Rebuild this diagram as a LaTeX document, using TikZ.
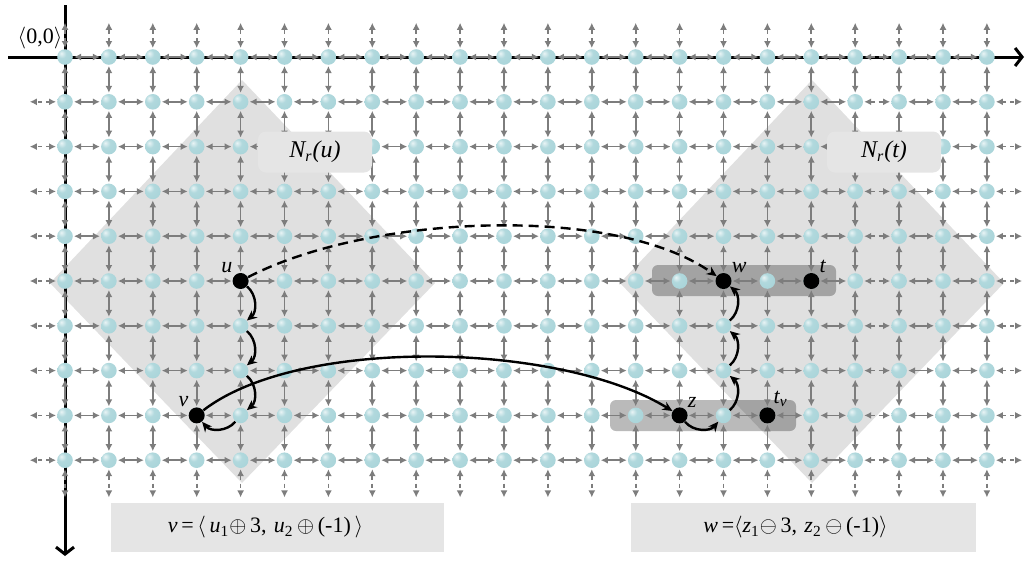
\documentclass[tikz,border=0pt]{standalone}
\usepackage{fontspec}
\setmainfont{Liberation Serif}
\usepackage{amsmath,amssymb}
\usetikzlibrary{arrows.meta,calc}

\definecolor{edgegray}{RGB}{125,125,125}
\definecolor{sitecol}{RGB}{168,212,217}
\definecolor{hoodgray}{RGB}{224,224,224}
\definecolor{boxgray}{RGB}{229,229,229}

\pgfdeclareradialshading{sitesh}{\pgfqpoint{-12bp}{12bp}}{%
  color(0bp)=(white!75!sitecol); color(14bp)=(sitecol!90!white);
  color(38bp)=(sitecol); color(62bp)=(sitecol!75!black); color(80bp)=(sitecol!70!black)}

\pgfdeclarelayer{back}
\pgfdeclarelayer{links}
\pgfsetlayers{back,links,main}

\tikzset{
  site/.style={circle,inner sep=0pt,minimum size=7.8pt,shading=sitesh},
  pick/.style={circle,inner sep=0pt,minimum size=8pt,fill=black},
  link/.style={draw=edgegray,line width=0.85pt,{Latex[length=3.5pt,width=3.5pt]}-{Latex[length=3.5pt,width=3.5pt]},shorten <=0.4pt,shorten >=0.4pt},
  stub/.style={link,dash pattern=on 2pt off 2pt},
  hop/.style={draw,line width=1.2pt,-{Stealth[length=5pt,width=4.5pt]}},
  axis/.style={draw,line width=1.5pt,-{Straight Barb[length=3.5pt,width=9pt]}},
  lbl/.style={font=\fontsize{11}{12}\selectfont\itshape,inner sep=1pt},
  hoodbox/.style={rounded corners=4pt,fill=boxgray,font=\fontsize{12}{14}\selectfont\itshape},
  rulebox/.style={fill=boxgray,font=\fontsize{11}{13}\selectfont},
}

\begin{document}
\begin{tikzpicture}[x=0.5pt,y=-0.5pt]
        \useasboundingbox (0,0) rectangle (1028,563);
        % neighbourhoods and rows
        \begin{pgfonlayer}{back}
            \path[fill=hoodgray](242,80)--(435,283)--(242,483)--(50,283)--cycle;
            \path[fill=hoodgray](812,80)--(1004,283)--(812,483)--(620,283)--cycle;
            \path[fill=black,fill opacity=0.27,rounded corners=3pt](652,265)rectangle(836,296);
            \path[fill=black,fill opacity=0.27,rounded corners=3pt](610,400)rectangle(796,431);
            % axis
            \coordinate (xs) at (8,57);
            \coordinate (xe) at (1024,57);
            \coordinate (ys) at (65,5);
            \coordinate (ye) at (65,556);
            \path[axis](xs)to(xe);
            \path[axis](ys)to(ye);
        \end{pgfonlayer}
        \node[font=\fontsize{11}{12}\selectfont] (origin) at (40,38) {$\langle$0,0$\rangle$};
        % lattice
        \foreach \c in {0,...,21}
            \foreach \r in {0,...,9}
                \node[site] (s-\c-\r) at ({65+43.9*\c},{57+44.8*\r}) {};
        \begin{pgfonlayer}{links}
            \foreach \c [count=\d] in {0,...,20}
                \foreach \r in {0,...,9}{
                    \ifnum\c=18
                        \path[stub](s-\c-\r)to(s-\d-\r);
                    \else
                        \path[link](s-\c-\r)to(s-\d-\r);
                    \fi
                }
            \foreach \c in {0,...,21}
                \foreach \r [count=\q] in {0,...,8}
                    \path[link](s-\c-\r)to(s-\c-\q);
            % open ends
            \foreach \c in {0,...,21}{
                \path[stub](s-\c-0)--++(0,-35);
                \path[stub](s-\c-9)--++(0,38);
            }
            \foreach \r in {1,...,9}{
                \path[stub](s-0-\r)--++(-36,0);
                \path[stub](s-21-\r)--++(36,0);
            }
        \end{pgfonlayer}
        % labels
        \node[hoodbox,minimum width=57pt,minimum height=20.5pt] (hoodu) at (315,152) {N\textsubscript{\textit{r}}(u)};
        \node[hoodbox,minimum width=57pt,minimum height=20.5pt] (hoodt) at (884,152) {N\textsubscript{\textit{r}}(t)};
        \node[rulebox,minimum width=165.5pt,minimum height=24.5pt,text width=160pt,align=center] (ruleu) at (277.5,527.5) {\hspace*{-12pt}\textit{v}\,=\,$\langle$\,\textit{u}\textsubscript{1}$\oplus$\,3, \textit{u}\textsubscript{2}\,$\oplus$\,(-1)\,$\rangle$};
        \node[rulebox,minimum width=171.5pt,minimum height=24.5pt,text width=166pt,align=center] (rulew) at (803.5,527.5) {\hspace*{-8pt}\textit{w}\,=$\langle$\textit{z}\textsubscript{1}$\ominus$\,3, \textit{z}\textsubscript{2}\,$\ominus$\,(-1)$\rangle$};
        % chosen sites
        \node[pick,label={[lbl]above left:u}] (u) at (s-4-5) {};
        \node[pick,label={[lbl]above left:v}] (v) at (s-3-8) {};
        \node[pick,label={[lbl]above right:w}] (w) at (s-15-5) {};
        \node[pick,label={[lbl]above right:t}] (t) at (s-17-5) {};
        \node[pick,label={[lbl]above right:z}] (z) at (s-14-8) {};
        \node[pick,label={[lbl,xshift=-1pt]above right:t\textsubscript{v}}] (tv) at (s-16-8) {};
        % moves
        \path[hop,dash pattern=on 5pt off 3pt](u).. controls (370,214) and (615,204) ..(w);
        \path[hop](v).. controls (300,336) and (560,342) ..(z);
        \path[hop](u)to[bend left=50](s-4-6);
        \path[hop](s-4-6)to[bend left=50](s-4-7);
        \path[hop](s-4-7)to[bend left=50](s-4-8);
        \path[hop](s-4-8)to[bend left=50](v);
        \path[hop](z)to[bend right=50](s-15-8);
        \path[hop](s-15-8)to[bend right=50](s-15-7);
        \path[hop](s-15-7)to[bend right=50](s-15-6);
        \path[hop](s-15-6)to[bend right=50](w);
    \end{tikzpicture}
\end{document}
